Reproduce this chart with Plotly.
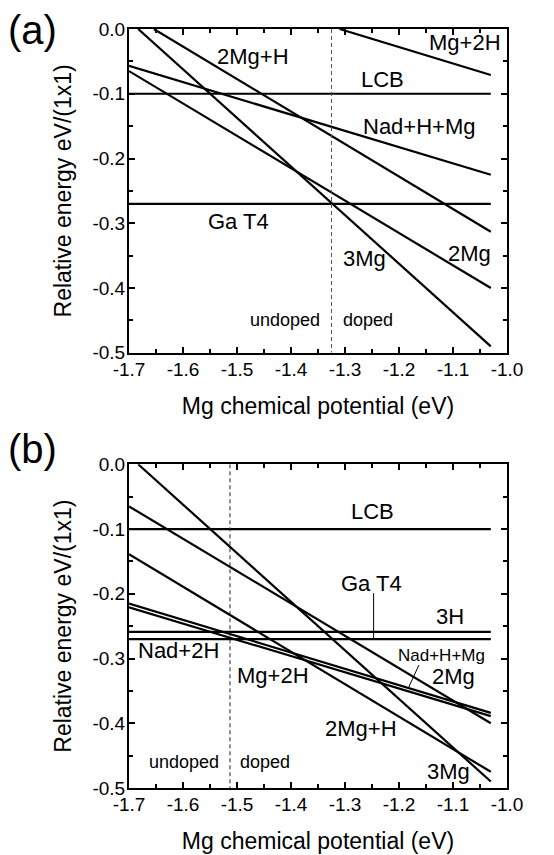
import plotly.graph_objects as go

# ---------------- data ----------------
# panel (a): each line given by its two end points (x in eV, y in eV/(1x1))
a_names = ["LCB", "Ga T4", "Mg+2H", "2Mg+H", "3Mg", "2Mg", "Nad+H+Mg"]
a_x0 = [-1.70, -1.70, -1.310, -1.654, -1.683, -1.70, -1.70]
a_x1 = [-1.03, -1.03, -1.03, -1.03, -1.03, -1.03, -1.03]
a_y0 = [-0.100, -0.270, 0.000, 0.000, 0.000, -0.065, -0.057]
a_y1 = [-0.100, -0.270, -0.071, -0.313, -0.490, -0.400, -0.225]
a_boundary = -1.325  # undoped / doped boundary

# panel (b)
b_names = ["LCB", "3H", "Ga T4", "3Mg", "2Mg", "2Mg+H", "Nad+H+Mg", "Mg+2H"]
b_x0 = [-1.70, -1.70, -1.70, -1.683, -1.70, -1.70, -1.70, -1.70]
b_x1 = [-1.03, -1.03, -1.03, -1.03, -1.03, -1.03, -1.03, -1.03]
b_y0 = [-0.100, -0.259, -0.270, 0.000, -0.065, -0.139, -0.215, -0.221]
b_y1 = [-0.100, -0.259, -0.270, -0.490, -0.400, -0.475, -0.384, -0.389]
b_boundary = -1.513

# axes ticks
x_tickvals = [-1.7, -1.6, -1.5, -1.4, -1.3, -1.2, -1.1, -1.0]
x_ticktext = ["-1.7", "-1.6", "-1.5", "-1.4", "-1.3", "-1.2", "-1.1", "-1.0"]
y_tickvals = [0.0, -0.1, -0.2, -0.3, -0.4, -0.5]
y_ticktext = ["0.0", "-0.1", "-0.2", "-0.3", "-0.4", "-0.5"]

# ---------------- figure ----------------
FONT = "Liberation Sans, Arial, Helvetica, sans-serif"
fig = go.Figure()

for n, x0, x1, y0, y1 in zip(a_names, a_x0, a_x1, a_y0, a_y1):
    fig.add_trace(go.Scatter(x=[x0, x1], y=[y0, y1], mode="lines", name=n,
                             line=dict(color="black", width=2.2),
                             xaxis="x", yaxis="y", showlegend=False))
for n, x0, x1, y0, y1 in zip(b_names, b_x0, b_x1, b_y0, b_y1):
    fig.add_trace(go.Scatter(x=[x0, x1], y=[y0, y1], mode="lines", name=n,
                             line=dict(color="black", width=2.2),
                             xaxis="x2", yaxis="y2", showlegend=False))

# doping boundaries
fig.add_trace(go.Scatter(x=[a_boundary, a_boundary], y=[0, -0.5], mode="lines",
                         line=dict(color="#555", width=1, dash="4px,3px"),
                         xaxis="x", yaxis="y", showlegend=False))
fig.add_trace(go.Scatter(x=[b_boundary, b_boundary], y=[0, -0.5], mode="lines",
                         line=dict(color="#222", width=1, dash="4px,3px"),
                         xaxis="x2", yaxis="y2", showlegend=False))

# leader lines in (b)
fig.add_trace(go.Scatter(x=[-1.247, -1.247], y=[-0.199, -0.270], mode="lines",
                         line=dict(color="black", width=1),
                         xaxis="x2", yaxis="y2", showlegend=False))
fig.add_trace(go.Scatter(x=[-1.163, -1.183], y=[-0.310, -0.346], mode="lines",
                         line=dict(color="black", width=1),
                         xaxis="x2", yaxis="y2", showlegend=False))

ann = []
def lab(text, x, y, ax, size=22):
    ann.append(dict(text=text, x=x, y=y, xref=ax[0], yref=ax[1],
                    showarrow=False, xanchor="center", yanchor="middle",
                    font=dict(size=size, family=FONT, color="black")))

A = ("x", "y")
B = ("x2", "y2")
lab("2Mg+H", -1.470, -0.043, A)
lab("Mg+2H", -1.078, -0.021, A)
lab("LCB", -1.230, -0.078, A)
lab("Nad+H+Mg", -1.162, -0.151, A)
lab("Ga T4", -1.498, -0.297, A)
lab("3Mg", -1.264, -0.354, A)
lab("2Mg", -1.069, -0.346, A)
lab("undoped", -1.412, -0.449, A, 18)
lab("doped", -1.258, -0.449, A, 18)

lab("LCB", -1.249, -0.073, B)
lab("Ga T4", -1.251, -0.184, B)
lab("3H", -1.106, -0.2355, B)
lab("Nad+2H", -1.609, -0.287, B)
lab("Nad+H+Mg", -1.122, -0.295, B, 17)
lab("Mg+2H", -1.434, -0.326, B)
lab("2Mg", -1.100, -0.328, B)
lab("2Mg+H", -1.270, -0.408, B)
lab("3Mg", -1.109, -0.475, B)
lab("undoped", -1.599, -0.460, B, 18)
lab("doped", -1.449, -0.460, B, 18)

# page body has an 8px margin; figure is sized to fill the rest of the window
OFF = 8
W, H = 554 - OFF, 855 - OFF
ML, MR, MT, MB = 129 - OFF, 47, 29 - OFF, 67
PW, PH = W - ML - MR, H - MT - MB

# panel letters (page pixel positions -> paper coords)
for t, px, py in [("(a)", 32, 30), ("(b)", 32, 449)]:
    ann.append(dict(text=t, x=(px - OFF - ML) / PW, y=(H - MB - (py - OFF)) / PH,
                    xref="paper", yref="paper", showarrow=False,
                    xanchor="center", yanchor="middle",
                    font=dict(size=40, family=FONT, color="black")))

def xaxis(anchor):
    return dict(range=[-1.7, -1.0], tickvals=x_tickvals, ticktext=x_ticktext,
                ticks="inside", ticklen=6, tickwidth=1.5, tickcolor="black",
                minor=dict(dtick=0.05, ticks="inside", ticklen=4, tickwidth=1.5,
                           tickcolor="black", showgrid=False),
                showline=True, linewidth=2, linecolor="black", mirror="ticks",
                showgrid=False, zeroline=False, anchor=anchor,
                ticklabelstandoff=-2,
                tickfont=dict(size=19, family=FONT, color="black"),
                title=dict(text="Mg chemical potential (eV)",
                           font=dict(size=23, family=FONT, color="black"),
                           standoff=19),
                domain=[0, 1])

def yaxis(anchor, dom):
    return dict(range=[-0.5, 0.0], tickvals=y_tickvals, ticktext=y_ticktext,
                ticks="inside", ticklen=6, tickwidth=1.5, tickcolor="black",
                minor=dict(dtick=0.05, ticks="inside", ticklen=4, tickwidth=1.5,
                           tickcolor="black", showgrid=False),
                showline=True, linewidth=2, linecolor="black", mirror="ticks",
                showgrid=False, zeroline=False, anchor=anchor,
                ticklabelstandoff=-2,
                tickfont=dict(size=19, family=FONT, color="black"),
                title=dict(text="Relative energy eV/(1x1)",
                           font=dict(size=23, family=FONT, color="black"),
                           standoff=14),
                domain=dom)

fig.update_layout(
    width=W, height=H,
    margin=dict(l=ML, r=MR, t=MT, b=MB, autoexpand=False),
    paper_bgcolor="white", plot_bgcolor="white",
    xaxis=xaxis("y"), yaxis=yaxis("x", [0.5734, 1.0]),
    xaxis2=xaxis("y2"), yaxis2=yaxis("x2", [0.0, 0.4265]),
    annotations=ann,
    showlegend=False,
)

fig.write_html("out.html")
